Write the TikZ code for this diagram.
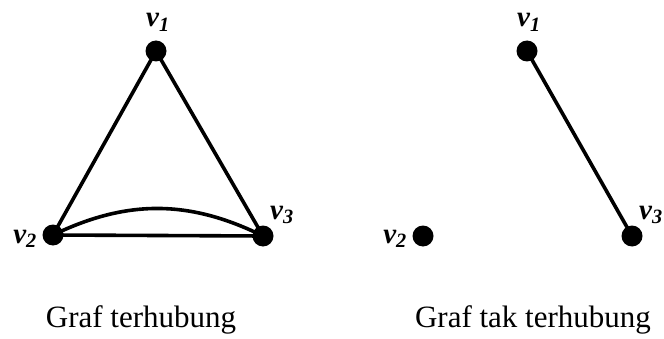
\documentclass[tikz,border=0pt]{standalone}
\usepackage{fontspec}
\setmainfont{Liberation Serif}
\usetikzlibrary{positioning}

\begin{document}
\begin{tikzpicture}[x=1pt,y=1pt,
    vertex/.style={circle,fill=black,inner sep=0pt,minimum size=21pt},
    vname/.style={font=\fontsize{29}{32}\selectfont\bfseries\itshape,inner sep=0pt},
    edge/.style={line width=3.6pt},
    caption/.style={font=\fontsize{31}{35}\selectfont,inner sep=0pt}]
    \useasboundingbox (0,0) rectangle (664,338);
    % connected graph
    \node[vertex] (a1) at (156,287) {};
    \node[vertex] (a2) at (53,103) {};
    \node[vertex] (a3) at (263,102) {};
    \draw[edge] (a1.center) -- (a2.center) -- (a3.center) -- cycle;
    \draw[edge] (a2.center) to[bend left=26] (a3.center);
    \node[vname,anchor=base] (la1) at (158,311) {v\textsubscript{1}};
    \node[vname,anchor=base east] (la2) at (37,95) {v\textsubscript{2}};
    \node[vname,anchor=base west] (la3) at (270,119) {v\textsubscript{3}};
    % disconnected graph
    \node[vertex] (b1) at (527,287) {};
    \node[vertex] (b2) at (423,102) {};
    \node[vertex] (b3) at (632,102) {};
    \draw[edge] (b1.center) -- (b3.center);
    \node[vname,anchor=base] (lb1) at (529,311) {v\textsubscript{1}};
    \node[vname,anchor=base east] (lb2) at (407,95) {v\textsubscript{2}};
    \node[vname,anchor=base west] (lb3) at (639,119) {v\textsubscript{3}};
    % captions
    \node[caption,anchor=base] (ca) at (141,11) {Graf terhubung};
    \node[caption,anchor=base] (cb) at (533,11) {Graf tak terhubung};
  \end{tikzpicture}
\end{document}
